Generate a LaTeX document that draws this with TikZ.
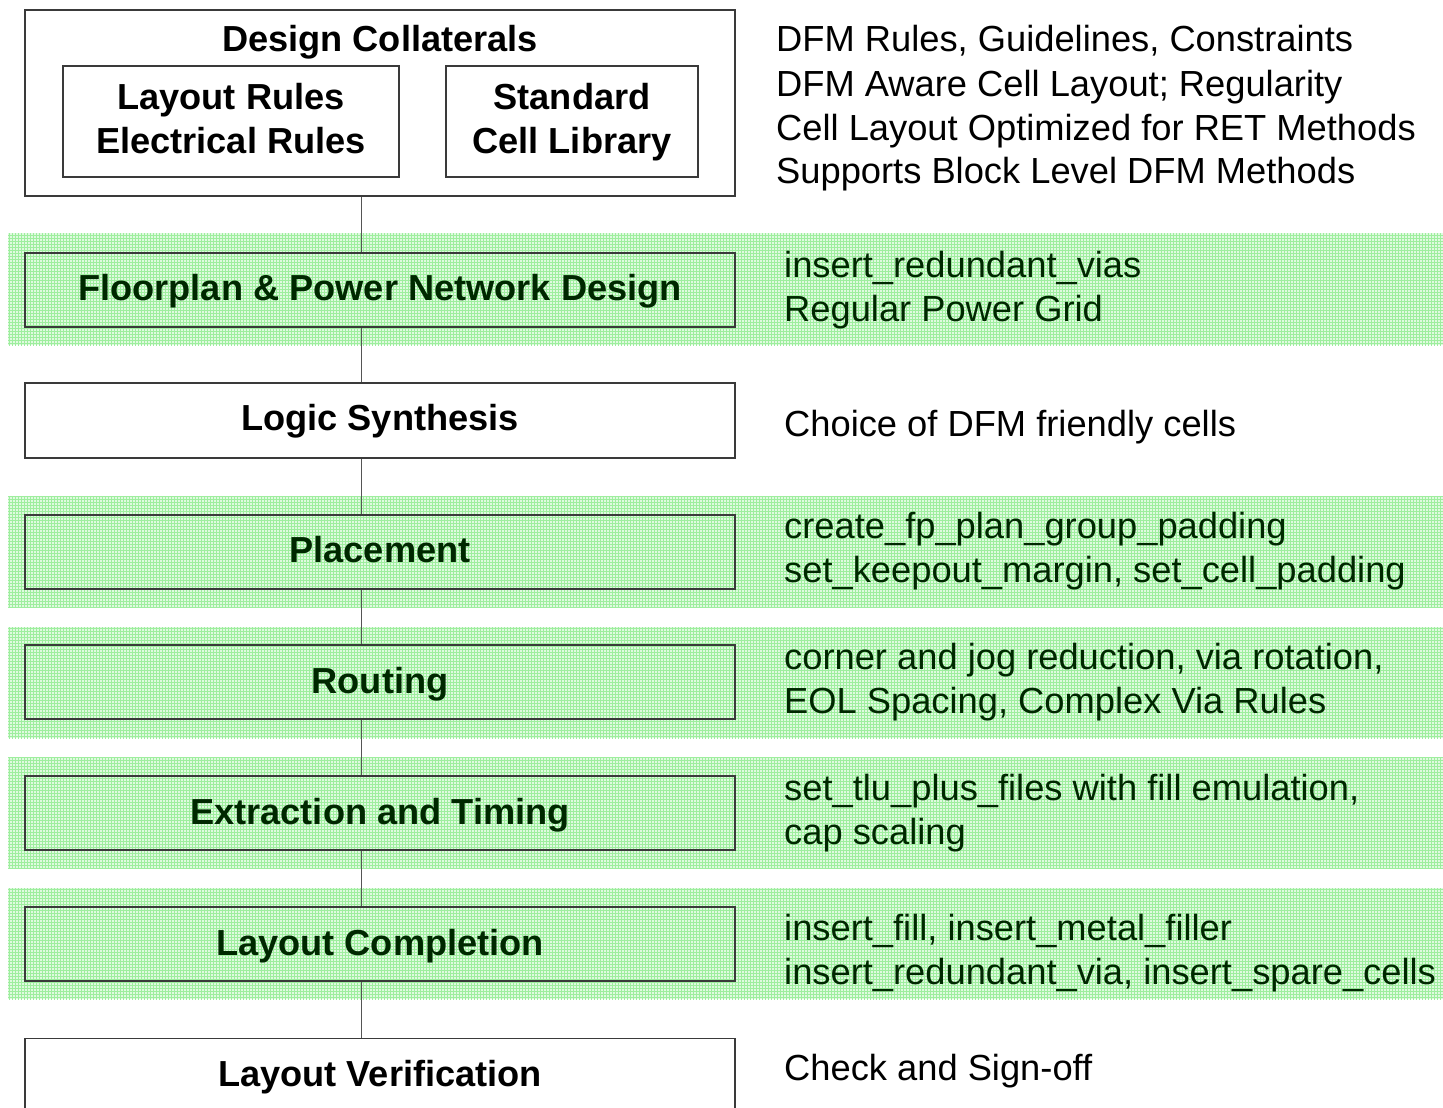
\documentclass[tikz,border=0pt]{standalone}
\usepackage{fontspec}
\setmainfont{Liberation Sans}
\usetikzlibrary{patterns}
\definecolor{bandbase}{HTML}{E0FAE0}
\definecolor{bandgrid}{HTML}{9EEE9E}
\definecolor{dkgreen}{HTML}{002800}
\definecolor{boxline}{HTML}{3A3A3A}
\definecolor{connline}{HTML}{555555}
\tikzset{
  bandrect/.style={preaction={fill=bandbase}, preaction={pattern=grid, pattern color=bandgrid}},
  stepbox/.style={draw=boxline, line width=1.3pt, minimum width=710pt, inner sep=0pt},
  boxlabel/.style={font=\fontsize{36.2}{44}\selectfont\bfseries, anchor=base},
  notetext/.style={font=\fontsize{36.3}{44}\selectfont, anchor=base west, align=left, inner sep=0pt},
  conn/.style={draw=connline, line width=1pt},
}
\begin{document}
\begin{tikzpicture}[x=1pt, y=-1pt]
\useasboundingbox (0,0) rectangle (1443,1108);
\clip (0,0) rectangle (1443,1108);
\coordinate (topc) at (361,196);
% green bands
\foreach \ya/\yb in {233/345, 496/607, 627/738, 757/868, 888/999} {
  \path[bandrect] (8,\ya) rectangle (1443,\yb);
}
% top box
\node[draw=boxline, line width=1.3pt, fill=white, minimum width=710pt, minimum height=186pt, inner sep=0pt] (top) at (380,103) {};
\node[draw=boxline, line width=1.3pt, fill=white, minimum width=336pt, minimum height=111pt, inner sep=0pt] (lr) at (231,121.5) {};
\node[draw=boxline, line width=1.3pt, fill=white, minimum width=252pt, minimum height=111pt, inner sep=0pt] (scl) at (572,121.5) {};
\node[boxlabel] (dc) at (380,52) {Design Collaterals};
\node[boxlabel] at (231,110) {Layout Rules};
\node[boxlabel] at (231,153) {Electrical Rules};
\node[boxlabel] at (572,110) {Standard};
\node[boxlabel] at (572,153) {Cell Library};
\node[notetext] at (776,52) {DFM Rules, Guidelines, Constraints};
\node[notetext] at (776,96) {DFM Aware Cell Layout; Regularity};
\node[notetext] at (776,140) {Cell Layout Optimized for RET Methods};
\node[notetext] at (776,183) {Supports Block Level DFM Methods};
% step boxes
\node[stepbox, minimum height=74pt, bandrect] (fp) at (380,290) {};
\node[boxlabel, text=dkgreen] at (380,300) {Floorplan \& Power Network Design};
\node[notetext, text=dkgreen] at (784,277) {insert\_redundant\_vias};
\node[notetext, text=dkgreen] at (784,321) {Regular Power Grid};

\node[stepbox, minimum height=75pt, fill=white] (ls) at (380,420.5) {};
\node[boxlabel] at (380,430) {Logic Synthesis};
\node[notetext] at (784,436) {Choice of DFM friendly cells};

\node[stepbox, minimum height=74pt, bandrect] (pl) at (380,552) {};
\node[boxlabel, text=dkgreen] at (380,562) {Placement};
\node[notetext, text=dkgreen] at (784,538) {create\_fp\_plan\_group\_padding};
\node[notetext, text=dkgreen] at (784,582) {set\_keepout\_margin, set\_cell\_padding};

\node[stepbox, minimum height=74pt, bandrect] (rt) at (380,682) {};
\node[boxlabel, text=dkgreen] at (380,693) {Routing};
\node[notetext, text=dkgreen] at (784,669) {corner and jog reduction, via rotation,};
\node[notetext, text=dkgreen] at (784,713) {EOL Spacing, Complex Via Rules};

\node[stepbox, minimum height=74pt, bandrect] (et) at (380,813) {};
\node[boxlabel, text=dkgreen] at (380,824) {Extraction and Timing};
\node[notetext, text=dkgreen] at (784,800) {set\_tlu\_plus\_files with fill emulation,};
\node[notetext, text=dkgreen] at (784,844) {cap scaling};

\node[stepbox, minimum height=74pt, bandrect] (lc) at (380,944) {};
\node[boxlabel, text=dkgreen] at (380,955) {Layout Completion};
\node[notetext, text=dkgreen] at (784,940) {insert\_fill, insert\_metal\_filler};
\node[notetext, text=dkgreen] at (784,984) {insert\_redundant\_via, insert\_spare\_cells};

\node[stepbox, minimum height=100pt, fill=white, anchor=north] (lv) at (380,1038) {};
\node[boxlabel] at (380,1086) {Layout Verification};
\node[notetext] at (784,1080) {Check and Sign-off};
% connectors between boxes
\draw[conn] (top.south -| topc) -- (fp.north -| topc);
\draw[conn] (fp.south -| topc) -- (ls.north -| topc);
\draw[conn] (ls.south -| topc) -- (pl.north -| topc);
\draw[conn] (pl.south -| topc) -- (rt.north -| topc);
\draw[conn] (rt.south -| topc) -- (et.north -| topc);
\draw[conn] (et.south -| topc) -- (lc.north -| topc);
\draw[conn] (lc.south -| topc) -- (lv.north -| topc);
\end{tikzpicture}
\end{document}
